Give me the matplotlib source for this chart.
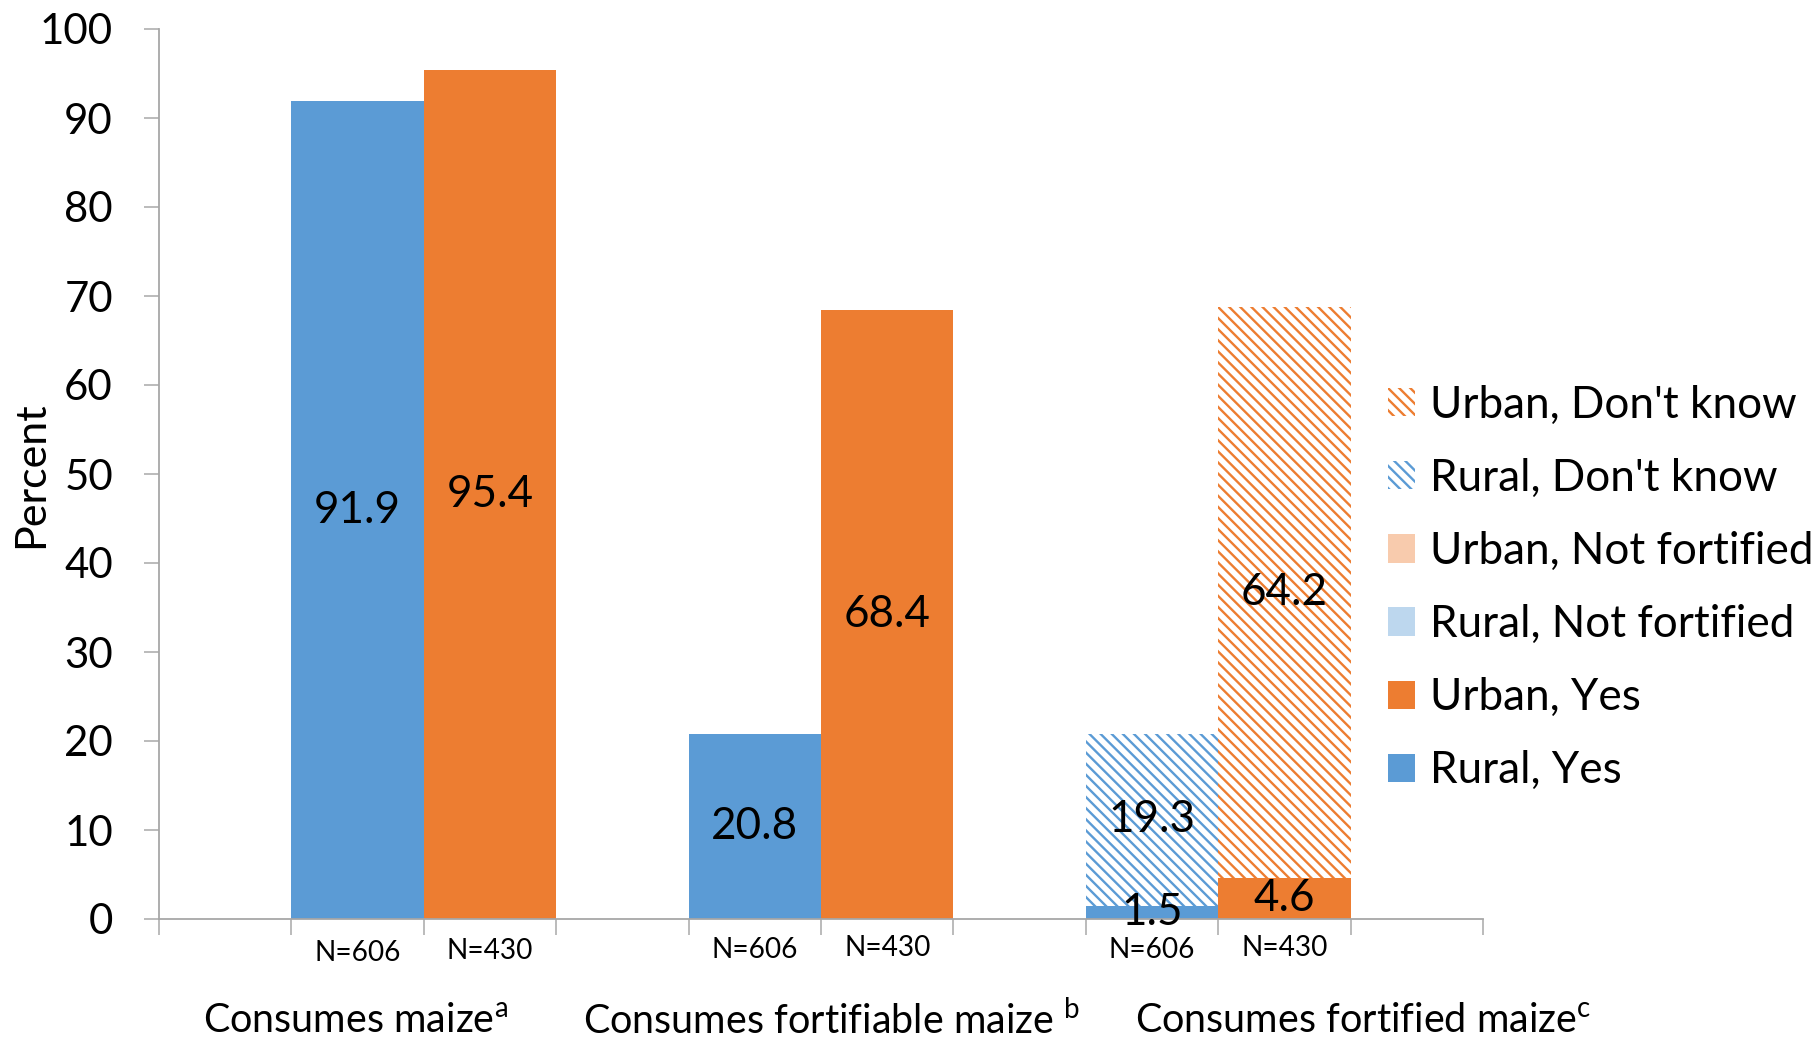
import matplotlib
matplotlib.use("Agg")
import matplotlib.pyplot as plt
from matplotlib.patches import Patch

plt.rcParams["font.family"] = ["Lato", "DejaVu Sans"]
plt.rcParams["mathtext.fontset"] = "custom"
plt.rcParams["mathtext.rm"] = "Lato"
plt.rcParams["hatch.linewidth"] = 1.7

# ---- data ----
groups = ["Consumes maize$^{\\mathrm{a}}$",
          "Consumes fortifiable maize $^{\\mathrm{b}}$",
          "Consumes fortified maize$^{\\mathrm{c}}$"]
n_labels_rural = ["N=606", "N=606", "N=606"]
n_labels_urban = ["N=430", "N=430", "N=430"]
rural_yes = [91.9, 20.8, 1.5]
urban_yes = [95.4, 68.4, 4.6]
rural_not_fortified = [0.0, 0.0, 0.0]
urban_not_fortified = [0.0, 0.0, 0.0]
rural_dont_know = [0.0, 0.0, 19.3]
urban_dont_know = [0.0, 0.0, 64.2]
yticks = [0, 10, 20, 30, 40, 50, 60, 70, 80, 90, 100]

BLUE = "#5B9BD5"
ORANGE = "#ED7D31"
LIGHT_BLUE = "#BDD7EE"
LIGHT_ORANGE = "#F8CBAD"
GRAY = "#A6A6A6"
HATCH = "\\\\\\"


def pt(px):
    return px * 72 / 100


fig = plt.figure(figsize=(18.18, 10.41), dpi=100)
ax = fig.add_axes([159 / 1818, 1 - 919 / 1041, (1483 - 159) / 1818, (919 - 29) / 1041])

# each group uses three slots: rural bar, urban bar, and a blank gap slot
x_rural = [3 * i + 1 for i in range(len(groups))]
x_urban = [3 * i + 2 for i in range(len(groups))]

val_fs = pt(44)


def stack(xs, layers):
    bottoms = [0.0] * len(xs)
    for vals, kw in layers:
        ax.bar(xs, vals, width=1.0, bottom=bottoms, **kw)
        for x, b, v in zip(xs, bottoms, vals):
            if v > 0:
                ax.text(x, b + v / 2, f"{v:.1f}", ha="center", va="center",
                        fontsize=val_fs, color="black")
        bottoms = [b + v for b, v in zip(bottoms, vals)]


stack(x_rural, [
    (rural_yes, dict(color=BLUE, linewidth=0)),
    (rural_not_fortified, dict(color=LIGHT_BLUE, linewidth=0)),
    (rural_dont_know, dict(facecolor="white", edgecolor=BLUE, hatch=HATCH, linewidth=0)),
])
stack(x_urban, [
    (urban_yes, dict(color=ORANGE, linewidth=0)),
    (urban_not_fortified, dict(color=LIGHT_ORANGE, linewidth=0)),
    (urban_dont_know, dict(facecolor="white", edgecolor=ORANGE, hatch=HATCH, linewidth=0)),
])

ax.set_xlim(-0.5, 3 * len(groups) + 0.5)
ax.set_ylim(0, 100)
ax.set_yticks(yticks)
ax.set_yticklabels([str(t) for t in yticks], fontsize=pt(42))
ax.set_xticks([i - 0.5 for i in range(3 * len(groups) + 2)])
ax.set_xticklabels([])
ax.tick_params(axis="y", length=pt(15), width=pt(1.5), color=GRAY, pad=pt(31))
ax.tick_params(axis="x", length=pt(16), width=pt(1.5), color=GRAY)

for side in ("top", "right"):
    ax.spines[side].set_visible(False)
for side in ("left", "bottom"):
    ax.spines[side].set_color(GRAY)
    ax.spines[side].set_linewidth(pt(1.8))

fig.text(31 / 1818, 1 - 475 / 1041, "Percent", rotation=90, ha="center", va="center",
         fontsize=pt(43))

# sample sizes under each bar
n_y_rural = [-0.038, -0.035, -0.035]
n_y_urban = [-0.036, -0.033, -0.033]
for i in range(len(groups)):
    ax.text(x_rural[i], n_y_rural[i], n_labels_rural[i],
            transform=ax.get_xaxis_transform(), ha="center", va="center", fontsize=pt(28))
    ax.text(x_urban[i], n_y_urban[i], n_labels_urban[i],
            transform=ax.get_xaxis_transform(), ha="center", va="center", fontsize=pt(28))

# group captions
group_x = [356, 832, 1363]
for gx, g in zip(group_x, groups):
    fig.text(gx / 1818, 1 - 1021 / 1041, g, ha="center", va="center", fontsize=pt(39.5))

handles = [
    Patch(facecolor="white", edgecolor=ORANGE, hatch=HATCH, linewidth=0, label="Urban, Don't know"),
    Patch(facecolor="white", edgecolor=BLUE, hatch=HATCH, linewidth=0, label="Rural, Don't know"),
    Patch(color=LIGHT_ORANGE, linewidth=0, label="Urban, Not fortified"),
    Patch(color=LIGHT_BLUE, linewidth=0, label="Rural, Not fortified"),
    Patch(color=ORANGE, linewidth=0, label="Urban, Yes"),
    Patch(color=BLUE, linewidth=0, label="Rural, Yes"),
]
fig.legend(handles=handles, loc="center left", bbox_to_anchor=(1388 / 1818, 1 - 588 / 1041),
           frameon=False, fontsize=pt(44), handlelength=0.61, handleheight=0.61,
           handletextpad=0.34, labelspacing=0.73, borderpad=0, borderaxespad=0)

fig.savefig("out.png", dpi=100)
